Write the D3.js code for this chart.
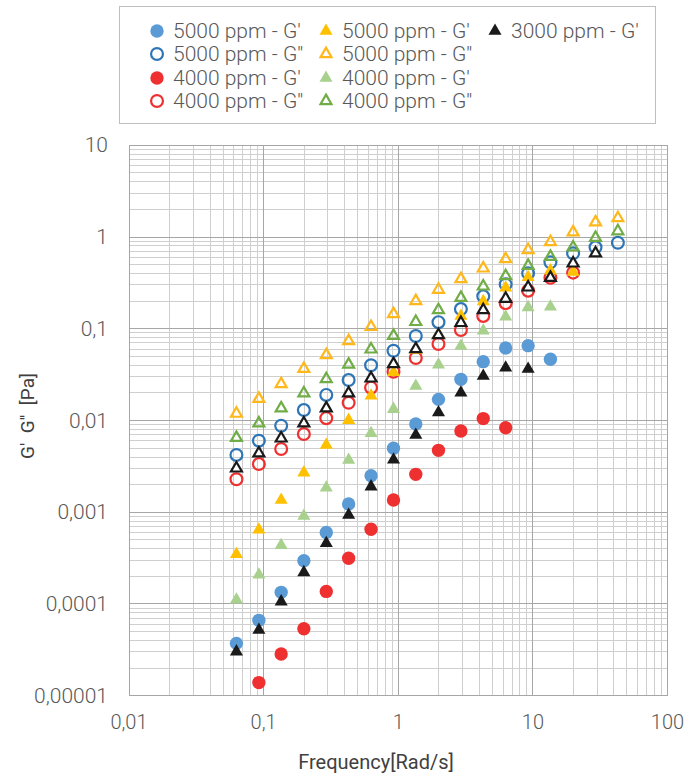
<!DOCTYPE html>
<html>
<head>
<meta charset="utf-8">
<script src="https://cdn.jsdelivr.net/npm/d3@7"></script>
<style>
  body { margin: 0; background: #fff; }
  text { font-family: Roboto, "Open Sans", sans-serif; }
</style>
</head>
<body>
<div id="chart"></div>
<script>
const freq = [0.0628, 0.0922, 0.135, 0.199, 0.292, 0.428, 0.628, 0.922, 1.35, 1.99, 2.92, 4.28, 6.28, 9.22, 13.5, 19.9, 29.2, 42.8];

const gp5000Circ = [0.0000372, 0.0000663, 0.000134, 0.000296, 0.000601, 0.00123, 0.00250, 0.00498, 0.00916, 0.0170, 0.0281, 0.0438, 0.0617, 0.0654, 0.0465];
const gpp5000Circ = [0.00421, 0.00602, 0.00877, 0.0130, 0.0190, 0.0276, 0.0400, 0.0576, 0.0834, 0.118, 0.164, 0.226, 0.305, 0.402, 0.530, 0.665, 0.773, 0.867];
const gp4000Circ = [null, 0.0000139, 0.0000285, 0.0000537, 0.000137, 0.000315, 0.000653, 0.00136, 0.00259, 0.00473, 0.00768, 0.0105, 0.00834];
const gpp4000Circ = [0.00229, 0.00335, 0.00489, 0.00712, 0.0106, 0.0156, 0.0228, 0.0340, 0.0480, 0.0682, 0.0970, 0.138, 0.190, 0.260, 0.360, 0.409];
const gp5000Tri = [0.000348, 0.000645, 0.00136, 0.00270, 0.00541, 0.0101, 0.0186, 0.0335, 0.0587, 0.0870, 0.138, 0.199, 0.280, 0.364, 0.430, 0.416];
const gpp5000Tri = [0.0119, 0.0173, 0.0250, 0.0366, 0.0518, 0.0736, 0.105, 0.145, 0.201, 0.267, 0.349, 0.456, 0.576, 0.722, 0.883, 1.13, 1.45, 1.61];
const gp4000Tri = [0.000111, 0.000208, 0.000436, 0.000909, 0.00185, 0.00371, 0.00725, 0.0133, 0.0238, 0.0406, 0.0649, 0.0953, 0.135, 0.171, 0.174];
const gpp4000Tri = [0.00649, 0.00932, 0.0136, 0.0198, 0.0283, 0.0408, 0.0597, 0.0840, 0.119, 0.160, 0.218, 0.290, 0.376, 0.487, 0.610, 0.773, 0.983, 1.16];
const gp3000Tri = [0.0000302, 0.0000520, 0.000106, 0.000221, 0.000458, 0.000933, 0.00190, 0.00374, 0.00695, 0.0122, 0.0201, 0.0306, 0.0376, 0.0364];
const gpp3000Tri = [0.00301, 0.00439, 0.00639, 0.00932, 0.0136, 0.0198, 0.0288, 0.0413, 0.0602, 0.0855, 0.116, 0.160, 0.213, 0.283, 0.360, 0.517, 0.665];

const xTicks = [0.01, 0.1, 1, 10, 100];
const yTicks = [0.00001, 0.0001, 0.001, 0.01, 0.1, 1, 10];

// legend: col / row, the last series has no entry
const series = [
  { name: "5000 ppm - G'", values: gp5000Circ, shape: "circle", fill: "#5b9bd5", stroke: null, col: 0, row: 0 },
  { name: "5000 ppm - G''", values: gpp5000Circ, shape: "circle", fill: "none", stroke: "#2e75b6", col: 0, row: 1 },
  { name: "4000 ppm - G'", values: gp4000Circ, shape: "circle", fill: "#ee3030", stroke: null, col: 0, row: 2 },
  { name: "4000 ppm - G''", values: gpp4000Circ, shape: "circle", fill: "none", stroke: "#ee3030", col: 0, row: 3 },
  { name: "5000 ppm - G'", values: gp5000Tri, shape: "triangle", fill: "#ffc000", stroke: null, col: 1, row: 0 },
  { name: "5000 ppm - G''", values: gpp5000Tri, shape: "triangle", fill: "none", stroke: "#ffb81c", col: 1, row: 1 },
  { name: "4000 ppm - G'", values: gp4000Tri, shape: "triangle", fill: "#a9d18e", stroke: null, col: 1, row: 2 },
  { name: "4000 ppm - G''", values: gpp4000Tri, shape: "triangle", fill: "none", stroke: "#70ad47", col: 1, row: 3 },
  { name: "3000 ppm - G'", values: gp3000Tri, shape: "triangle", fill: "#1a1a1a", stroke: null, col: 2, row: 0 },
  { name: "3000 ppm - G''", values: gpp3000Tri, shape: "triangle", fill: "#fff", stroke: "#1a1a1a", col: null, row: null }
];

const W = 695, H = 774;
const plot = { left: 129, right: 667.5, top: 145.3, bottom: 695.7 };

const svg = d3.select("#chart").append("svg")
  .attr("width", W)
  .attr("height", H);

const x = d3.scaleLog().domain([0.01, 100]).range([plot.left, plot.right]);
const y = d3.scaleLog().domain([0.00001, 10]).range([plot.bottom, plot.top]);

const fmt = v => String(v).replace(".", ",");

// minor and major grid
const minorX = [], minorY = [];
for (let e = -2; e < 2; e++) for (let m = 2; m <= 9; m++) minorX.push(m * Math.pow(10, e));
for (let e = -5; e < 1; e++) for (let m = 2; m <= 9; m++) minorY.push(m * Math.pow(10, e));

const grid = svg.append("g").attr("shape-rendering", "crispEdges");
grid.selectAll(".mx").data(minorX).enter().append("line")
  .attr("x1", d => x(d)).attr("x2", d => x(d))
  .attr("y1", plot.top).attr("y2", plot.bottom)
  .attr("stroke", "#cfcfcf").attr("stroke-width", 1);
grid.selectAll(".my").data(minorY).enter().append("line")
  .attr("y1", d => y(d)).attr("y2", d => y(d))
  .attr("x1", plot.left).attr("x2", plot.right)
  .attr("stroke", "#cfcfcf").attr("stroke-width", 1);
grid.selectAll(".Mx").data(xTicks).enter().append("line")
  .attr("x1", d => x(d)).attr("x2", d => x(d))
  .attr("y1", plot.top).attr("y2", plot.bottom)
  .attr("stroke", "#a6a6a6").attr("stroke-width", 1);
grid.selectAll(".My").data(yTicks).enter().append("line")
  .attr("y1", d => y(d)).attr("y2", d => y(d))
  .attr("x1", plot.left).attr("x2", plot.right)
  .attr("stroke", "#a6a6a6").attr("stroke-width", 1);

// tick labels
svg.append("g").selectAll("text").data(xTicks).enter().append("text")
  .attr("x", d => x(d))
  .attr("y", 729)
  .attr("text-anchor", "middle")
  .attr("font-size", "20px")
  .attr("font-weight", 300)
  .attr("fill", "#595959")
  .text(fmt);

svg.append("g").selectAll("text").data(yTicks).enter().append("text")
  .attr("x", 108)
  .attr("y", d => y(d) + 7)
  .attr("text-anchor", "end")
  .attr("font-size", "21px")
  .attr("font-weight", 300)
  .attr("fill", "#595959")
  .text(fmt);

svg.append("text")
  .attr("x", 376)
  .attr("y", 769)
  .attr("text-anchor", "middle")
  .attr("font-size", "20px")
  .attr("fill", "#404040")
  .text("Frequency[Rad/s]");

svg.append("text")
  .attr("transform", "translate(34, 416) rotate(-90)")
  .attr("text-anchor", "middle")
  .attr("font-size", "19px")
  .attr("fill", "#404040")
  .attr("xml:space", "preserve")
  .text("G'  G''  [Pa]");

const markerPath = s => {
  if (s.shape === "circle") {
    return d3.symbol().type(d3.symbolCircle).size(s.stroke ? 110 : 140)();
  }
  return d3.symbol().type(d3.symbolTriangle).size(s.stroke ? 52 : 74)();
};

// points
series.forEach(s => {
  const pts = s.values.map((v, i) => [freq[i], v]).filter(d => d[1] != null);
  svg.append("g").selectAll("path").data(pts).enter().append("path")
    .attr("transform", d => `translate(${x(d[0])},${y(d[1])})`)
    .attr("d", markerPath(s))
    .attr("fill", s.fill)
    .attr("stroke", s.stroke || "none")
    .attr("stroke-width", s.stroke ? 2.2 : 0);
});

// legend
svg.append("rect")
  .attr("x", 119.5).attr("y", 6.5)
  .attr("width", 536).attr("height", 117)
  .attr("fill", "#fff")
  .attr("stroke", "#bfbfbf");

const colX = [157, 326, 495];
const rowY = [31, 54, 78, 101];
const legend = svg.append("g");
series.filter(s => s.col != null).forEach(s => {
  legend.append("path")
    .attr("transform", `translate(${colX[s.col]},${rowY[s.row]})`)
    .attr("d", markerPath(s))
    .attr("fill", s.fill)
    .attr("stroke", s.stroke || "none")
    .attr("stroke-width", s.stroke ? 2.2 : 0);
  legend.append("text")
    .attr("x", colX[s.col] + 16)
    .attr("y", rowY[s.row] + 7)
    .attr("font-size", "21px")
    .attr("font-weight", 300)
    .attr("fill", "#595959")
    .attr("xml:space", "preserve")
    .text(s.name);
});
</script>
</body>
</html>
